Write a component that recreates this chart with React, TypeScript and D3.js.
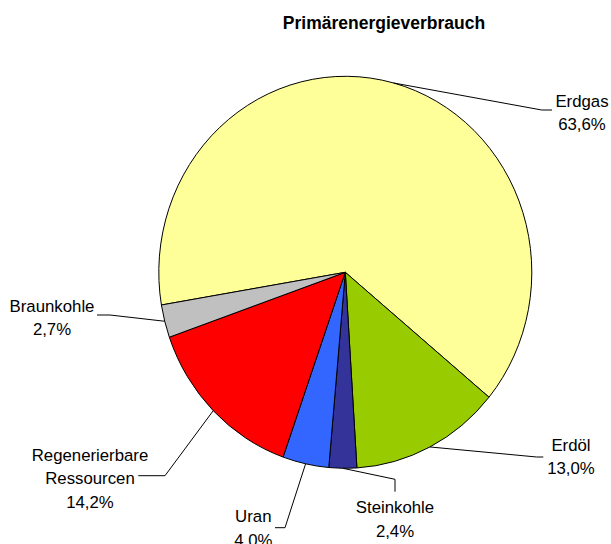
import React from "react";
import * as d3 from "d3";

const categories = ["Erdgas", "Erdöl", "Steinkohle", "Uran", "Regenerierbare Ressourcen", "Braunkohle"];
const values = [63.6, 13.0, 2.4, 4.0, 14.2, 2.7];
const colors = ["#FFFF99", "#99CC00", "#333399", "#3366FF", "#FF0000", "#C0C0C0"];
const labelLines = [["Erdgas"], ["Erdöl"], ["Steinkohle"], ["Uran"], ["Regenerierbare", "Ressourcen"], ["Braunkohle"]];
const title = "Primärenergieverbrauch";

// layout: label centre x, first baseline y, leader elbow and end
const labelLayout = [
  { x: 582, y: 106.7, elbow: [541.7, 110], end: [552, 110] },
  { x: 571, y: 450.7, elbow: [536.7, 457], end: [543.3, 457] },
  { x: 395, y: 513.3, elbow: [395, 479.3], end: [395, 491.7] },
  { x: 253.3, y: 522.3, elbow: [285, 527.7], end: [275, 527.7] },
  { x: 90, y: 461, elbow: [165, 475.7], end: [138.3, 475.7] },
  { x: 52, y: 311.7, elbow: [110, 315], end: [97, 315] },
];

const W = 611, H = 544;
const cx = 345.3, cy = 272.3, R = 186.5, SY = 1.051;
const startDeg = -99.6;
const lineH = 23.3;

export default function App() {
  const pie = d3.pie<number>().sort(null).value((d) => d)
    .startAngle((startDeg * Math.PI) / 180)
    .endAngle((startDeg * Math.PI) / 180 + 2 * Math.PI);
  const arcs = pie(values);
  const arc = d3.arc<d3.PieArcDatum<number>>().innerRadius(0).outerRadius(R);
  const fmt = (v: number) => d3.format(".1f")(v).replace(".", ",") + "%";
  const edge = (a: d3.PieArcDatum<number>) => {
    const m = (a.startAngle + a.endAngle) / 2;
    return [cx + R * Math.sin(m), cy - R * SY * Math.cos(m)];
  };
  return (
    <svg width={W} height={H} style={{ position: "absolute", left: 0, top: 0, background: "#fff" }}
      fontFamily="'Liberation Sans', Arial, sans-serif">
      <rect width={W} height={H} fill="#fff" />
      <text x={384} y={29.3} textAnchor="middle" fontWeight="bold" fontSize={17.5}>{title}</text>
      <g transform={`translate(${cx},${cy}) scale(1,${SY})`}>
        {arcs.map((a, i) => (
          <path key={categories[i]} d={arc(a) || ""} fill={colors[i]} stroke="#000" strokeWidth={1}
            vectorEffect="non-scaling-stroke" strokeLinejoin="round" />
        ))}
      </g>
      {arcs.map((a, i) => {
        const L = labelLayout[i];
        const s = edge(a);
        const lines = [...labelLines[i], fmt(values[i])];
        return (
          <g key={"l" + i}>
            <polyline points={`${s[0]},${s[1]} ${L.elbow[0]},${L.elbow[1]} ${L.end[0]},${L.end[1]}`}
              fill="none" stroke="#000" strokeWidth={1} />
            <text textAnchor="middle" fontSize={16.8} fill="#000">
              {lines.map((t, j) => (
                <tspan key={j} x={L.x} y={L.y + j * lineH}>{t}</tspan>
              ))}
            </text>
          </g>
        );
      })}
    </svg>
  );
}
